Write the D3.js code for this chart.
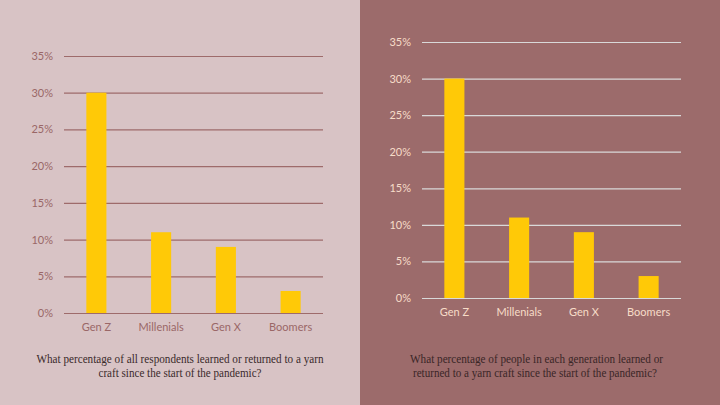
<!DOCTYPE html>
<html><head><meta charset="utf-8">
<script src="https://cdn.jsdelivr.net/npm/d3@7"></script>
<style>html,body{margin:0;padding:0;}svg{display:block;}</style>
</head><body>
<svg id="chart" width="720" height="405"></svg>
<script>
const categories = ["Gen Z", "Millenials", "Gen X", "Boomers"];
const allRespondents = [0.30, 0.11, 0.09, 0.03];
const perGeneration = [0.30, 0.11, 0.09, 0.03];
const yTicks = [0, 0.05, 0.10, 0.15, 0.20, 0.25, 0.30, 0.35];
const captionLeft = ["What percentage of all respondents learned or returned to a yarn", "craft since the start of the pandemic?"];
const captionRight = ["What percentage of people in each generation learned or", "returned to a yarn craft since the start of the pandemic?"];

const svg = d3.select("#chart");
const labelFont = "Lato, 'Open Sans', sans-serif";
const serif = "'Liberation Serif', 'DejaVu Serif', serif";

function panel(opts) {
  const g = svg.append("g");
  g.append("rect").attr("x", opts.px).attr("y", 0).attr("width", 360).attr("height", 405).attr("fill", opts.bg);
  const x = d3.scaleBand().domain(categories).range([opts.x0, opts.x1]).paddingInner(0.69).paddingOuter(0.345);
  const y = d3.scaleLinear().domain([0, 0.35]).range([opts.y0, opts.y1]);
  const ax = g.append("g").attr("transform", `translate(${opts.x0},0)`)
    .call(d3.axisLeft(y).tickValues(yTicks).tickFormat(d3.format(".0%")).tickSize(-(opts.x1 - opts.x0)).tickPadding(11));
  ax.select(".domain").remove();
  ax.selectAll(".tick line").attr("stroke", opts.grid).attr("stroke-width", 1.2);
  ax.selectAll(".tick text").attr("fill", opts.label).style("font-family", labelFont).style("font-size", "11px");
  g.selectAll("rect.bar").data(opts.values).enter().append("rect").attr("class", "bar")
    .attr("x", (d, i) => x(categories[i])).attr("width", x.bandwidth())
    .attr("y", d => y(d)).attr("height", d => y(0) - y(d)).attr("fill", "#ffc907");
  const xa = g.append("g").attr("transform", `translate(0,${opts.y0})`)
    .call(d3.axisBottom(x).tickSize(0).tickPadding(opts.xpad));
  xa.select(".domain").remove();
  xa.selectAll(".tick text").attr("fill", opts.label).style("font-family", labelFont).style("font-size", "11px");
  const cap = g.append("g");
  opts.caption.forEach((line, i) => {
    cap.append("text").attr("x", opts.cx[i]).attr("y", opts.cy[i]).attr("text-anchor", "middle")
      .attr("fill", opts.capColor).style("font-family", serif).style("font-size", "12.5px")
      .attr("textLength", opts.cw[i]).attr("lengthAdjust", "spacingAndGlyphs").text(line);
  });
}

panel({px: 0, bg: "#d8c3c5", x0: 64, x1: 323, y0: 313, y1: 56, grid: "#9e6b6b", label: "#9a6767",
  values: allRespondents, xpad: 10, caption: captionLeft, cx: [180, 180], cy: [363, 377], cw: [287, 163], capColor: "#3a2a2b"});
panel({px: 360, bg: "#9c6b6b", x0: 422, x1: 681, y0: 298, y1: 42, grid: "#d9d9d9", label: "#f7dcc8",
  values: perGeneration, xpad: 10, caption: captionRight, cx: [536.5, 535], cy: [363, 377], cw: [253, 244], capColor: "#3a2627"});
</script>
</body></html>
